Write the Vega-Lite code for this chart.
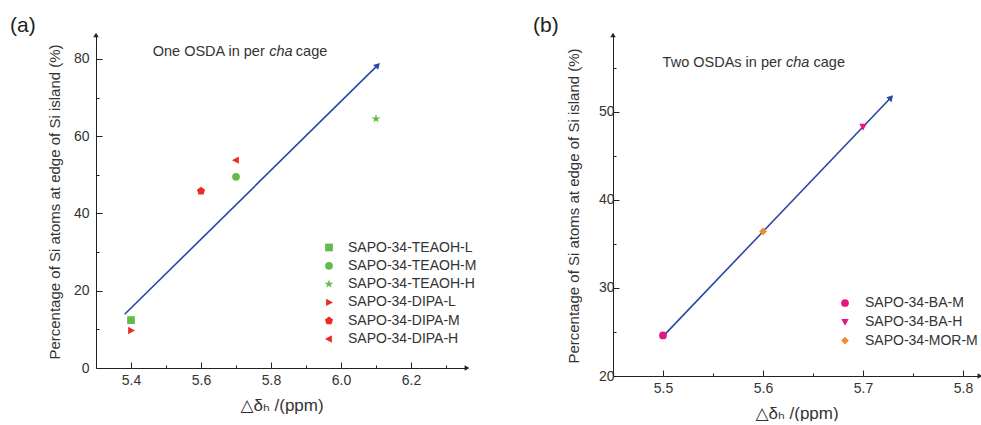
{
  "$schema": "https://vega.github.io/schema/vega-lite/v6.json",
  "padding": {"left": 10, "top": 14, "right": 0, "bottom": 0},
  "spacing": 56,
  "config": {
    "font": "Liberation Sans",
    "view": {"stroke": null},
    "axis": {"grid": false, "domainColor": "#222", "tickColor": "#222", "labelColor": "#333", "titleColor": "#333", "labelFontSize": 14, "titleFontWeight": "normal", "labelFont": "Liberation Sans", "titleFont": "Liberation Sans, DejaVu Sans"},
    "legend": {"labelFontSize": 14, "labelColor": "#333", "labelFont": "Liberation Sans", "padding": 0, "symbolStrokeWidth": 0, "symbolSize": 60},
    "title": {"fontWeight": "normal", "fontSize": 21, "color": "#222", "anchor": "start", "frame": "group"}
  },
  "datasets": {
    "ptsA": [
      {"x": 5.4, "y": 12.4, "sample": "SAPO-34-TEAOH-L"},
      {"x": 5.7, "y": 49.5, "sample": "SAPO-34-TEAOH-M"},
      {"x": 6.1, "y": 64.5, "sample": "SAPO-34-TEAOH-H"},
      {"x": 5.4, "y": 9.7, "sample": "SAPO-34-DIPA-L"},
      {"x": 5.6, "y": 45.8, "sample": "SAPO-34-DIPA-M"},
      {"x": 5.7, "y": 53.8, "sample": "SAPO-34-DIPA-H"}
    ],
    "lineA": [{"x": 5.382, "y": 13.9}, {"x": 6.105, "y": 78.4}],
    "headA": [{"x": 6.105, "y": 78.4}],
    "axXA": [{"x": 6.36, "y": 0}],
    "axYA": [{"x": 5.3, "y": 86.2}],
    "txtA": [{"x": 5.462, "y": 80.8, "t": "One OSDA in per"}, {"x": 5.871, "y": 80.8, "t": "cage"}],
    "txtAi": [{"x": 5.795, "y": 80.8, "t": "cha"}],
    "ptsB": [
      {"x": 5.5, "y": 24.6, "sample": "SAPO-34-BA-M"},
      {"x": 5.7, "y": 48.3, "sample": "SAPO-34-BA-H"},
      {"x": 5.6, "y": 36.4, "sample": "SAPO-34-MOR-M"}
    ],
    "lineB": [{"x": 5.5, "y": 24.5}, {"x": 5.728, "y": 51.6}],
    "headB": [{"x": 5.728, "y": 51.6}],
    "axXB": [{"x": 5.817, "y": 20}],
    "axYB": [{"x": 5.45, "y": 58.7}],
    "txtB": [{"x": 5.4996, "y": 55.07, "t": "Two OSDAs in per"}, {"x": 5.6505, "y": 55.07, "t": "cage"}],
    "txtBi": [{"x": 5.623, "y": 55.07, "t": "cha"}]
  },
  "resolve": {"scale": {"color": "independent", "shape": "independent"}, "legend": {"color": "independent", "shape": "independent"}},
  "hconcat": [
    {
      "width": 371,
      "height": 333,
      "title": {"text": "(a)", "dx": -86, "offset": -19, "baseline": "alphabetic", "dy": 1},
      "encoding": {
        "x": {"field": "x", "type": "quantitative",
          "scale": {"domain": [5.3, 6.36], "nice": false, "zero": false},
          "axis": {"values": [5.4, 5.5, 5.6, 5.7, 5.8, 5.9, 6.0, 6.1, 6.2, 6.3],
            "labelExpr": "round(datum.value*10) % 2 == 0 ? format(datum.value, '.1f') : ''",
            "tickSize": {"condition": {"test": "round(datum.value*10) % 2 == 0", "value": -6}, "value": -3},
            "labelPadding": 11,
            "title": "△δₕ /(ppm)", "titleFontSize": 17, "titlePadding": 10}},
        "y": {"field": "y", "type": "quantitative",
          "scale": {"domain": [0, 86.2], "nice": false},
          "axis": {"values": [0, 10, 20, 30, 40, 50, 60, 70, 80],
            "labelExpr": "datum.value % 20 == 0 ? datum.label : ''",
            "tickSize": {"condition": {"test": "datum.value % 20 == 0", "value": -6}, "value": -3},
            "labelPadding": 13,
            "title": "Percentage of Si atoms at edge of Si island (%)", "titleFontSize": 15, "titlePadding": 11}}
      },
      "layer": [
        {"data": {"name": "lineA"}, "mark": {"type": "line", "color": "#2c45a3", "strokeWidth": 1.6, "clip": false}, "encoding": {}},
        {"data": {"name": "headA"}, "mark": {"type": "point", "shape": "triangle-up", "filled": true, "color": "#2c45a3", "opacity": 1, "size": 50, "angle": 44, "clip": false}, "encoding": {}},
        {"data": {"name": "axXA"}, "mark": {"type": "point", "shape": "triangle-right", "filled": true, "color": "#222", "opacity": 1, "size": 30, "clip": false}, "encoding": {}},
        {"data": {"name": "axYA"}, "mark": {"type": "point", "shape": "triangle-up", "filled": true, "color": "#222", "opacity": 1, "size": 30, "clip": false}, "encoding": {}},
        {"data": {"name": "txtA"}, "mark": {"type": "text", "align": "left", "baseline": "alphabetic", "fontSize": 14.5, "color": "#333"}, "encoding": {"text": {"field": "t"}}},
        {"data": {"name": "txtAi"}, "mark": {"type": "text", "align": "left", "baseline": "alphabetic", "fontSize": 14.5, "fontStyle": "italic", "color": "#333"}, "encoding": {"text": {"field": "t"}}},
        {"data": {"name": "ptsA"}, "mark": {"type": "point", "filled": true, "opacity": 1, "size": 60},
          "encoding": {
            "color": {"field": "sample", "type": "nominal",
              "scale": {"domain": ["SAPO-34-TEAOH-L", "SAPO-34-TEAOH-M", "SAPO-34-TEAOH-H", "SAPO-34-DIPA-L", "SAPO-34-DIPA-M", "SAPO-34-DIPA-H"],
                "range": ["#62bb46", "#62bb46", "#62bb46", "#ee2a24", "#ee2a24", "#ee2a24"]},
              "legend": {"title": null, "orient": "none", "legendX": 226, "legendY": 205.5, "labelOffset": 12, "rowPadding": 4.3}},
            "shape": {"field": "sample", "type": "nominal",
              "scale": {"domain": ["SAPO-34-TEAOH-L", "SAPO-34-TEAOH-M", "SAPO-34-TEAOH-H", "SAPO-34-DIPA-L", "SAPO-34-DIPA-M", "SAPO-34-DIPA-H"],
                "range": ["square", "circle", "M0,-1.2L0.27,-0.371L1.141,-0.371L0.436,0.142L0.706,0.971L0,0.458L-0.706,0.971L-0.436,0.142L-1.141,-0.371L-0.27,-0.371Z", "M1.05,0L-0.75,-0.95L-0.75,0.95Z", "M0,-1.1L1.046,-0.34L0.647,0.89L-0.647,0.89L-1.046,-0.34Z", "M-1.05,0L0.75,-0.95L0.75,0.95Z"]},
              "legend": {"title": null, "orient": "none", "legendX": 226, "legendY": 205.5, "labelOffset": 12, "rowPadding": 4.3}}
          }}
      ]
    },
    {
      "width": 367,
      "height": 341,
      "title": {"text": "(b)", "dx": -80, "offset": -19, "baseline": "alphabetic", "dy": 1},
      "encoding": {
        "x": {"field": "x", "type": "quantitative",
          "scale": {"domain": [5.45, 5.817], "nice": false, "zero": false},
          "axis": {"values": [5.5, 5.55, 5.6, 5.65, 5.7, 5.75, 5.8],
            "labelExpr": "round(datum.value*100) % 10 == 0 ? format(datum.value, '.1f') : ''",
            "tickSize": {"condition": {"test": "round(datum.value*100) % 10 == 0", "value": -6}, "value": -3},
            "labelPadding": 11,
            "title": "△δₕ /(ppm)", "titleFontSize": 17, "titlePadding": 10}},
        "y": {"field": "y", "type": "quantitative",
          "scale": {"domain": [20, 58.7], "nice": false, "zero": false},
          "axis": {"values": [20, 25, 30, 35, 40, 45, 50, 55],
            "labelExpr": "datum.value % 10 == 0 ? datum.label : ''",
            "tickSize": {"condition": {"test": "datum.value % 10 == 0", "value": -6}, "value": -3},
            "labelPadding": 5,
            "title": "Percentage of Si atoms at edge of Si island (%)", "titleFontSize": 15, "titlePadding": 17}}
      },
      "layer": [
        {"data": {"name": "lineB"}, "mark": {"type": "line", "color": "#2c45a3", "strokeWidth": 1.6, "clip": false}, "encoding": {}},
        {"data": {"name": "headB"}, "mark": {"type": "point", "shape": "triangle-up", "filled": true, "color": "#2c45a3", "opacity": 1, "size": 50, "angle": 43.6, "clip": false}, "encoding": {}},
        {"data": {"name": "axXB"}, "mark": {"type": "point", "shape": "triangle-right", "filled": true, "color": "#222", "opacity": 1, "size": 30, "clip": false}, "encoding": {}},
        {"data": {"name": "axYB"}, "mark": {"type": "point", "shape": "triangle-up", "filled": true, "color": "#222", "opacity": 1, "size": 30, "clip": false}, "encoding": {}},
        {"data": {"name": "txtB"}, "mark": {"type": "text", "align": "left", "baseline": "alphabetic", "fontSize": 14.5, "color": "#333"}, "encoding": {"text": {"field": "t"}}},
        {"data": {"name": "txtBi"}, "mark": {"type": "text", "align": "left", "baseline": "alphabetic", "fontSize": 14.5, "fontStyle": "italic", "color": "#333"}, "encoding": {"text": {"field": "t"}}},
        {"data": {"name": "ptsB"}, "mark": {"type": "point", "filled": true, "opacity": 1, "size": 60},
          "encoding": {
            "color": {"field": "sample", "type": "nominal",
              "scale": {"domain": ["SAPO-34-BA-M", "SAPO-34-BA-H", "SAPO-34-MOR-M"], "range": ["#e5177c", "#e5177c", "#f28c2a"]},
              "legend": {"title": null, "orient": "none", "legendX": 225, "legendY": 261, "labelOffset": 13, "rowPadding": 4.8}},
            "shape": {"field": "sample", "type": "nominal",
              "scale": {"domain": ["SAPO-34-BA-M", "SAPO-34-BA-H", "SAPO-34-MOR-M"], "range": ["circle", "M0,1.05L-0.95,-0.75L0.95,-0.75Z", "diamond"]},
              "legend": {"title": null, "orient": "none", "legendX": 225, "legendY": 261, "labelOffset": 13, "rowPadding": 4.8}}
          }}
      ]
    }
  ]
}
